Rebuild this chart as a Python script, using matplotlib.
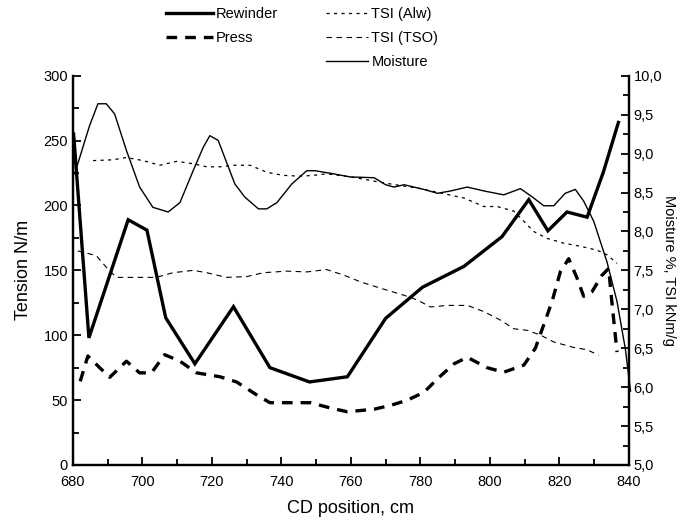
import matplotlib
matplotlib.use("Agg")
import matplotlib.pyplot as plt
from matplotlib.lines import Line2D
from matplotlib.ticker import MultipleLocator, FuncFormatter

plt.rcParams['font.family'] = ['Liberation Sans', 'DejaVu Sans']

# tension profiles, N/m
rew_x = [680.2, 684.6, 695.9, 701.3, 706.7, 715.1, 726.2, 736.7, 748.1, 759.0,
         770.0, 780.6, 792.5, 803.5, 811.2, 816.7, 822.2, 828.0, 832.7, 837.0]
rew_y = [255, 98, 189, 181, 113.5, 78, 122, 75, 64, 68,
         113, 137, 153, 176, 204.5, 180.5, 195, 191, 226, 264]

press_x = [682.1, 684.3, 687.7, 690.6, 695.4, 699.2, 702.6, 706.4, 710.8, 715.6,
           722.3, 727.1, 732.9, 736.7, 743.5, 748.3, 754.0, 759.0, 766.7, 771.5,
           776.3, 781.0, 785.4, 789.7, 793.5, 799.2, 804.0, 809.8, 813.1, 815.5,
           817.9, 820.3, 822.7, 825.1, 827.0, 829.4, 832.2, 834.2, 835.1, 836.6]
press_y = [64.5, 84, 75, 67.6, 80, 71, 71, 85, 80, 71,
           68, 64, 54, 48, 48, 48, 44, 41, 43, 46,
           50, 56, 67.6, 78, 83, 75, 71.5, 77, 90, 108,
           126, 149, 159, 144, 130, 133.5, 146, 151.5, 126, 87]

# moisture %, TSI kNm/g
moist_x = [680.5, 684.8, 687.2, 689.6, 692.0, 695.4, 699.2, 703.0, 707.4, 710.8,
           714.6, 717.5, 719.4, 721.8, 726.6, 729.5, 733.4, 735.8, 738.7, 743.0,
           747.3, 749.7, 755.0, 759.8, 766.7, 770.0, 772.4, 775.3, 781.0, 784.9,
           788.7, 793.5, 798.3, 804.0, 808.8, 812.6, 815.5, 818.4, 821.7, 824.6,
           827.0, 829.9, 833.7, 836.6, 839.0, 840.5]
moist_y = [8.74, 9.36, 9.64, 9.64, 9.51, 9.04, 8.57, 8.31, 8.25, 8.37,
           8.78, 9.08, 9.23, 9.17, 8.61, 8.44, 8.29, 8.29, 8.37, 8.61,
           8.78, 8.78, 8.74, 8.70, 8.69, 8.60, 8.57, 8.60, 8.54, 8.49,
           8.52, 8.57, 8.52, 8.47, 8.55, 8.43, 8.33, 8.33, 8.49, 8.54,
           8.39, 8.13, 7.61, 7.10, 6.49, 5.95]

alw_x = [685.8, 691.5, 695.4, 700.2, 705.0, 709.8, 714.6, 718.5, 722.3, 726.2,
         731.0, 735.8, 740.6, 745.4, 749.2, 753.0, 760.0, 770.0, 780.0, 792.5,
         798.3, 802.1, 806.9, 809.8, 812.6, 816.5, 821.2, 826.0, 830.8, 833.7, 836.6]
alw_y = [8.91, 8.92, 8.95, 8.91, 8.85, 8.90, 8.87, 8.83, 8.83, 8.85,
         8.85, 8.76, 8.72, 8.71, 8.72, 8.74, 8.70, 8.62, 8.55, 8.43,
         8.32, 8.32, 8.26, 8.13, 8.00, 7.91, 7.85, 7.81, 7.76, 7.70, 7.59]

tso_x = [681.4, 686.7, 689.6, 692.5, 698.3, 704.0, 708.8, 714.6, 718.5, 724.2,
         730.0, 734.8, 741.5, 747.3, 753.0, 757.9, 762.9, 768.6, 775.3, 779.1,
         782.9, 787.8, 793.5, 798.3, 803.1, 806.9, 810.7, 814.5, 818.4, 824.1,
         828.0, 831.3]
tso_y = [7.75, 7.69, 7.54, 7.41, 7.41, 7.41, 7.47, 7.50, 7.47, 7.41,
         7.42, 7.47, 7.49, 7.48, 7.51, 7.44, 7.35, 7.27, 7.18, 7.12,
         7.03, 7.05, 7.05, 6.97, 6.86, 6.75, 6.73, 6.67, 6.58, 6.51,
         6.48, 6.41]

PRESS_DASH = (3.2, 2.4)

fig = plt.figure(figsize=(6.88, 5.26), dpi=100)
ax = fig.add_axes([0.106, 0.116, 0.808, 0.740])
ax2 = ax.twinx()

ax.plot(rew_x, rew_y, color='black', lw=2.4, solid_joinstyle='miter')
ax.plot(press_x, press_y, color='black', lw=2.4, dashes=PRESS_DASH)
ax2.plot(moist_x, moist_y, color='black', lw=1.0, clip_on=False)
ax2.plot(alw_x, alw_y, color='black', lw=0.9, dashes=(2.5, 3.5))
ax2.plot(tso_x, tso_y, color='black', lw=0.8, dashes=(5, 4))

ax.set_xlim(680, 840)
ax.set_ylim(0, 300)
ax2.set_ylim(5.0, 10.0)

for a in (ax, ax2):
    a.spines['top'].set_visible(False)
    for s in a.spines.values():
        s.set_linewidth(1.6)

ax.xaxis.set_major_locator(MultipleLocator(20))
ax.xaxis.set_minor_locator(MultipleLocator(10))
ax.yaxis.set_major_locator(MultipleLocator(50))
ax.yaxis.set_minor_locator(MultipleLocator(25))
ax2.yaxis.set_major_locator(MultipleLocator(0.5))
ax2.yaxis.set_minor_locator(MultipleLocator(0.25))
ax2.yaxis.set_major_formatter(FuncFormatter(lambda v, p: f"{v:.1f}".replace('.', ',')))

for a in (ax, ax2):
    a.tick_params(which='both', direction='in', width=1.3, labelsize=10.5)
    a.tick_params(which='major', length=6)
    a.tick_params(which='minor', length=4)
ax.tick_params(axis='x', which='major', pad=7)

ax.set_xlabel('CD position, cm', fontsize=13, labelpad=8)
ax.set_ylabel('Tension N/m', fontsize=13, labelpad=8)
ax2.set_ylabel('Moisture %, TSI kNm/g', fontsize=10.5, rotation=270, labelpad=10)

# legend above the plot in two groups
h1 = [Line2D([], [], color='black', lw=2.4),
      Line2D([], [], color='black', lw=2.4, dashes=PRESS_DASH)]
h2 = [Line2D([], [], color='black', lw=0.9, dashes=(2.5, 3.5)),
      Line2D([], [], color='black', lw=0.8, dashes=(5, 4)),
      Line2D([], [], color='black', lw=1.0)]
fig.legend(h1, ['Rewinder', 'Press'], loc='upper left',
           bbox_to_anchor=(0.222, 1.012), frameon=False, fontsize=10.5,
           handlelength=3.2, handletextpad=0.2, labelspacing=0.7)
fig.legend(h2, ['TSI (Alw)', 'TSI (TSO)', 'Moisture'], loc='upper left',
           bbox_to_anchor=(0.455, 1.012), frameon=False, fontsize=10.5,
           handlelength=2.9, handletextpad=0.2, labelspacing=0.7)

fig.savefig('out.png', dpi=100)
